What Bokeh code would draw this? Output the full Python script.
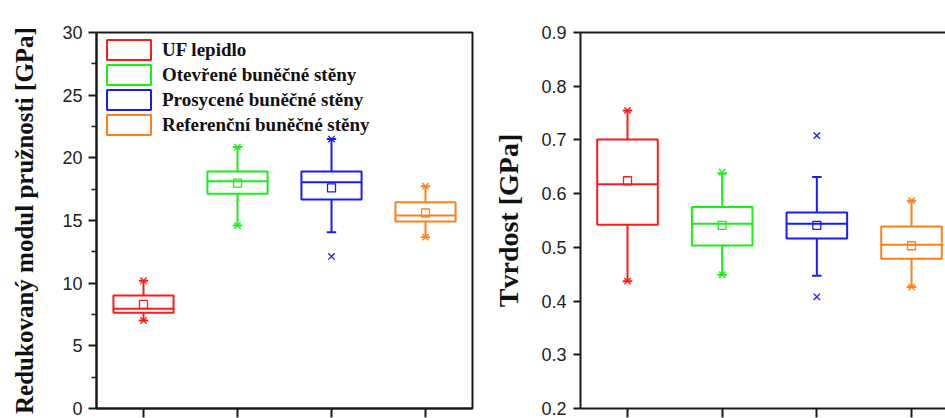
from bokeh.plotting import figure
from bokeh.models import (Range1d, FixedTicker, LinearAxis, Legend, LegendItem,
                          ColumnDataSource)
from bokeh.layouts import row
from bokeh.embed import file_html
from bokeh.resources import INLINE

# ---------------- data ----------------
categories = ["UF lepidlo", "Otevřené buněčné stěny",
              "Prosycené buněčné stěny", "Referenční buněčné stěny"]
colors = ["#ff1a1a", "#1aee1a", "#1a1aff", "#ff8019"]
xpos = [1, 2, 3, 4]

mod_q1 = [7.64, 17.13, 16.68, 14.92]
mod_q3 = [9.02, 18.90, 18.90, 16.46]
mod_median = [7.95, 18.14, 18.06, 15.40]
mod_mean = [8.30, 17.98, 17.60, 15.60]
mod_whisk_lo = [7.02, 14.60, 14.07, 13.67]
mod_whisk_hi = [10.20, 20.86, 21.50, 17.74]
mod_extreme_lo = [7.02, 14.60, 12.13, 13.67]
mod_extreme_hi = [10.20, 20.86, 21.50, 17.74]

hard_q1 = [0.542, 0.5035, 0.5165, 0.479]
hard_q3 = [0.701, 0.575, 0.565, 0.539]
hard_median = [0.6176, 0.544, 0.544, 0.5047]
hard_mean = [0.624, 0.541, 0.541, 0.503]
hard_whisk_lo = [0.437, 0.449, 0.447, 0.426]
hard_whisk_hi = [0.755, 0.638, 0.631, 0.587]
hard_extreme_lo = [0.437, 0.449, 0.408, 0.426]
hard_extreme_hi = [0.755, 0.640, 0.708, 0.587]

mod_ticks = [0, 5, 10, 15, 20, 25, 30]
mod_minor = [2.5, 7.5, 12.5, 17.5, 22.5, 27.5]
hard_ticks = [0.2, 0.3, 0.4, 0.5, 0.6, 0.7, 0.8, 0.9]

BOX_W = 0.64
CAP_W = 0.10
AX = "#1a1a1a"
TICK_FONT = "Liberation Sans"
LABEL_FONT = "Liberation Serif"


def style_axes(p, yticks, minor):
    p.xgrid.visible = False
    p.ygrid.visible = False
    xa = p.xaxis[0]
    xa.ticker = FixedTicker(ticks=xpos)
    xa.major_label_overrides = {1: "", 2: "", 3: "", 4: ""}
    xa.major_label_standoff = 0
    xa.major_label_text_font_size = "1px"
    xa.axis_line_width = 2
    xa.axis_line_color = AX
    xa.major_tick_line_width = 2
    xa.major_tick_line_color = AX
    xa.major_tick_out = 9
    xa.major_tick_in = 0
    xa.minor_tick_line_color = None
    ya = p.yaxis[0]
    ya.ticker = FixedTicker(ticks=yticks, minor_ticks=minor)
    ya.axis_line_width = 2
    ya.axis_line_color = AX
    ya.major_tick_line_width = 2
    ya.major_tick_line_color = AX
    ya.major_tick_out = 8
    ya.major_tick_in = 0
    ya.minor_tick_line_width = 1.5
    ya.minor_tick_line_color = AX if minor else None
    ya.minor_tick_out = 5
    ya.minor_tick_in = 0
    ya.major_label_text_font = TICK_FONT
    ya.major_label_text_font_size = "18px"
    ya.major_label_text_color = "#222222"
    ya.axis_label_text_font = LABEL_FONT
    ya.axis_label_text_font_style = "bold"
    ya.axis_label_text_color = "#111111"


def add_boxes(p, q1, q3, med, mean, wlo, whi, elo, ehi):
    src = ColumnDataSource(dict(
        x=xpos, q1=q1, q3=q3, med=med, mean=mean, wlo=wlo, whi=whi,
        elo=elo, ehi=ehi, color=colors, label=categories,
        bl=[x - BOX_W / 2 for x in xpos], br=[x + BOX_W / 2 for x in xpos],
        cl=[x - CAP_W / 2 for x in xpos], cr=[x + CAP_W / 2 for x in xpos],
    ))
    p.segment(x0="x", y0="q3", x1="x", y1="whi", line_color="color", line_width=2, source=src)
    p.segment(x0="x", y0="q1", x1="x", y1="wlo", line_color="color", line_width=2, source=src)
    p.segment(x0="cl", y0="whi", x1="cr", y1="whi", line_color="color", line_width=2, source=src)
    p.segment(x0="cl", y0="wlo", x1="cr", y1="wlo", line_color="color", line_width=2, source=src)
    box = p.vbar(x="x", width=BOX_W, top="q3", bottom="q1", fill_color=None,
                 line_color="color", line_width=2, source=src)
    p.segment(x0="bl", y0="med", x1="br", y1="med", line_color="color", line_width=2, source=src)
    p.scatter(x="x", y="mean", marker="square", size=8, fill_color=None,
              line_color="color", line_width=1.3, source=src)
    p.scatter(x="x", y="ehi", marker="x", size=9, line_color="color", line_width=1.3, source=src)
    p.scatter(x="x", y="elo", marker="x", size=9, line_color="color", line_width=1.3, source=src)
    return box


# ---------------- left figure ----------------
p1 = figure(width=480, height=418, output_backend="svg", toolbar_location=None,
            x_range=Range1d(0.5, 4.5), y_range=Range1d(0, 30),
            min_border_left=96, min_border_right=8, min_border_top=32,
            min_border_bottom=10)
p1.outline_line_color = AX
p1.outline_line_width = 2
p1.outline_line_alpha = 1
p1.background_fill_color = "white"
p1.border_fill_color = "white"
style_axes(p1, mod_ticks, mod_minor)
p1.yaxis[0].axis_label = "Redukovaný modul pružnosti [GPa]"
p1.yaxis[0].axis_label_text_font_size = "25px"
p1.yaxis[0].major_label_standoff = 6
p1.yaxis[0].axis_label_standoff = 21
box1 = add_boxes(p1, mod_q1, mod_q3, mod_median, mod_mean, mod_whisk_lo,
                 mod_whisk_hi, mod_extreme_lo, mod_extreme_hi)

legend = Legend(items=[LegendItem(label=categories[i], renderers=[box1], index=i)
                       for i in range(4)],
                location="top_left", margin=5, padding=0, spacing=0,
                glyph_width=55, glyph_height=25, label_height=25,
                label_standoff=6, border_line_color=None,
                background_fill_alpha=0,
                label_text_font=LABEL_FONT, label_text_font_style="bold",
                label_text_font_size="19px", label_text_color="#111111")
p1.add_layout(legend)

# ---------------- right figure ----------------
p2 = figure(width=465, height=418, output_backend="svg", toolbar_location=None,
            x_range=Range1d(0.5035, 4.359), y_range=Range1d(0.2, 0.9),
            min_border_left=100, min_border_right=0, min_border_top=32,
            min_border_bottom=10)
p2.outline_line_color = None
p2.background_fill_color = "white"
p2.border_fill_color = "white"
style_axes(p2, hard_ticks, [])
p2.yaxis[0].axis_label = "Tvrdost [GPa]"
p2.yaxis[0].axis_label_text_font_size = "28px"
p2.yaxis[0].major_tick_out = 7
p2.yaxis[0].major_label_standoff = 7
p2.yaxis[0].axis_label_standoff = 14
top_ax = LinearAxis(ticker=FixedTicker(ticks=[]), major_label_text_font_size="1px",
                    major_label_standoff=0, axis_line_width=2, axis_line_color=AX,
                    major_tick_line_color=None, minor_tick_line_color=None)
p2.add_layout(top_ax, "above")
add_boxes(p2, hard_q1, hard_q3, hard_median, hard_mean, hard_whisk_lo,
          hard_whisk_hi, hard_extreme_lo, hard_extreme_hi)

layout = row(p1, p2, spacing=0)
open("out.html", "w").write(file_html(layout, INLINE))
